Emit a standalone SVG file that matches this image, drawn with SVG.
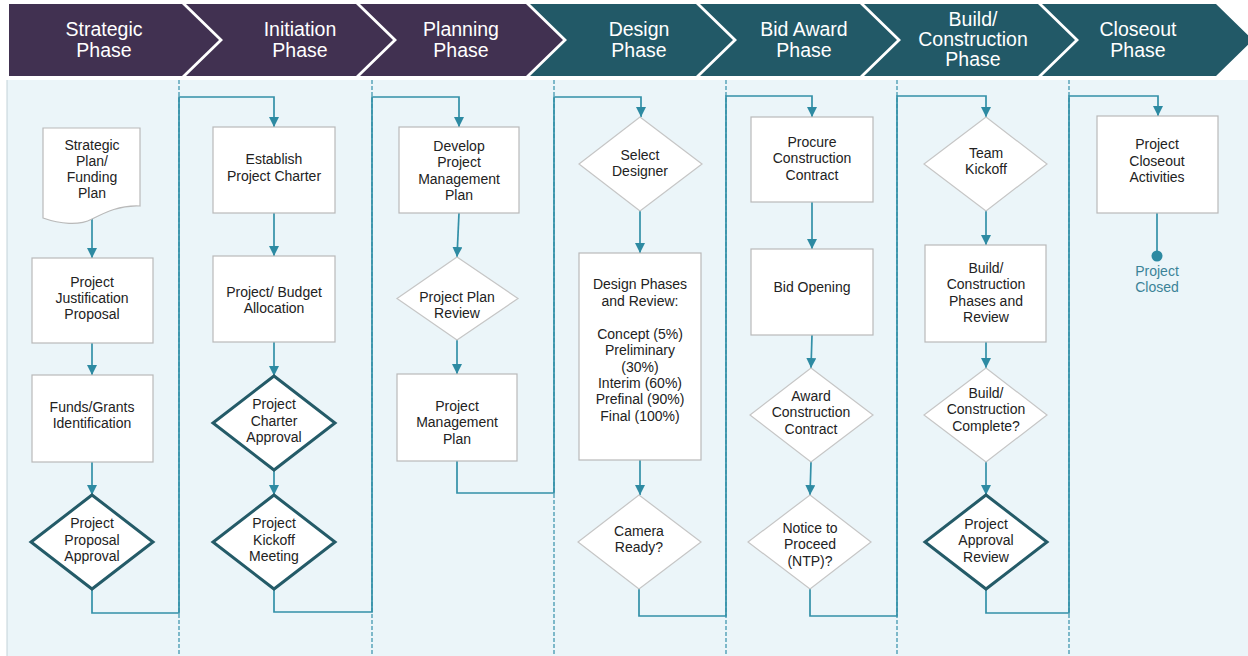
<svg xmlns="http://www.w3.org/2000/svg" width="1248" height="656" viewBox="0 0 1248 656">
<style>
text{font-family:"Liberation Sans",Arial,sans-serif;text-anchor:middle}
.h{font-size:19.5px;fill:#ffffff}
.t{font-size:14px;fill:#222222}
.pur{fill:#413151}
.tea{fill:#225967}
.box{fill:#ffffff;stroke:#b9b9b9;stroke-width:1.2}
.dia{fill:#ffffff;stroke:#c6c6c6;stroke-width:1.2}
.bold{fill:#ffffff;stroke:#245b68;stroke-width:3;stroke-linejoin:miter}
.div{stroke:#5aa4b9;stroke-width:1.5;stroke-dasharray:4 2;fill:none}
.c{fill:none;stroke:#3390a8;stroke-width:1.7}
</style>
<defs>
<marker id="ah" viewBox="0 0 10 10" refX="10" refY="5" markerWidth="10" markerHeight="10" markerUnits="userSpaceOnUse" orient="auto">
<path d="M0,0 L10,5 L0,10 z" fill="#2d8aa2"/>
</marker>
</defs>
<rect x="0" y="0" width="1248" height="656" fill="#ffffff"/>
<rect x="7" y="80" width="1241" height="576" fill="#ebf5f9"/>
<line x1="7" y1="80" x2="7" y2="656" stroke="#c3d2d8" stroke-width="1"/>

<g id="header">
<polygon class="pur" points="9,4 182,4 219,40 182,76 9,76"/>
<polygon class="pur" points="186,4 356,4 393,40 356,76 186,76 223,40"/>
<polygon class="pur" points="360,4 526,4 563,40 526,76 360,76 397,40"/>
<polygon class="tea" points="530,4 696,4 733,40 696,76 530,76 567,40"/>
<polygon class="tea" points="700,4 860,4 897,40 860,76 700,76 737,40"/>
<polygon class="tea" points="864,4 1038,4 1075,40 1038,76 864,76 901,40"/>
<polygon class="tea" points="1042,4 1216,4 1253,40 1216,76 1042,76 1079,40"/>
<text class="h" x="104" y="36">Strategic</text><text class="h" x="104" y="57">Phase</text>
<text class="h" x="300" y="36">Initiation</text><text class="h" x="300" y="57">Phase</text>
<text class="h" x="461" y="36">Planning</text><text class="h" x="461" y="57">Phase</text>
<text class="h" x="639" y="36">Design</text><text class="h" x="639" y="57">Phase</text>
<text class="h" x="804" y="36">Bid Award</text><text class="h" x="804" y="57">Phase</text>
<text class="h" x="973" y="26">Build/</text><text class="h" x="973" y="46">Construction</text><text class="h" x="973" y="66">Phase</text>
<text class="h" x="1138" y="36">Closeout</text><text class="h" x="1138" y="57">Phase</text>
</g>

<g id="dividers">
<line class="div" x1="179" y1="80" x2="179" y2="656"/>
<line class="div" x1="372" y1="80" x2="372" y2="656"/>
<line class="div" x1="554" y1="80" x2="554" y2="656"/>
<line class="div" x1="726" y1="80" x2="726" y2="656"/>
<line class="div" x1="897" y1="80" x2="897" y2="656"/>
<line class="div" x1="1069" y1="80" x2="1069" y2="656"/>
</g>

<g id="connectors">
<line class="c" x1="92" y1="219" x2="92" y2="258" marker-end="url(#ah)"/>
<line class="c" x1="92" y1="343" x2="92" y2="375" marker-end="url(#ah)"/>
<line class="c" x1="92" y1="462" x2="92" y2="495" marker-end="url(#ah)"/>
<polyline class="c" points="92,589 92,613 179,613 179,97 274,97 274,127" marker-end="url(#ah)"/>
<line class="c" x1="274" y1="213" x2="274" y2="256" marker-end="url(#ah)"/>
<line class="c" x1="274" y1="342" x2="274" y2="376" marker-end="url(#ah)"/>
<line class="c" x1="274" y1="470" x2="274" y2="495" marker-end="url(#ah)"/>
<polyline class="c" points="274,589 274,612 372,612 372,97 459,97 459,127" marker-end="url(#ah)"/>
<line class="c" x1="459" y1="213" x2="457" y2="257" marker-end="url(#ah)"/>
<line class="c" x1="457" y1="340" x2="457" y2="374" marker-end="url(#ah)"/>
<polyline class="c" points="457,461 457,493 554,493 554,97 641,97 641,117" marker-end="url(#ah)"/>
<line class="c" x1="640" y1="211" x2="640" y2="253" marker-end="url(#ah)"/>
<line class="c" x1="640" y1="460" x2="640" y2="495" marker-end="url(#ah)"/>
<polyline class="c" points="639,589 639,616 726,616 726,96 812,96 812,117" marker-end="url(#ah)"/>
<line class="c" x1="812" y1="202" x2="812" y2="249" marker-end="url(#ah)"/>
<line class="c" x1="812" y1="335" x2="811" y2="368" marker-end="url(#ah)"/>
<line class="c" x1="811" y1="462" x2="810" y2="495" marker-end="url(#ah)"/>
<polyline class="c" points="810,589 810,616 897,616 897,96 986,96 986,117" marker-end="url(#ah)"/>
<line class="c" x1="986" y1="211" x2="986" y2="245" marker-end="url(#ah)"/>
<line class="c" x1="986" y1="342" x2="986" y2="368" marker-end="url(#ah)"/>
<line class="c" x1="986" y1="462" x2="986" y2="495" marker-end="url(#ah)"/>
<polyline class="c" points="986,589 986,613 1069,613 1069,96 1158,96 1158,116" marker-end="url(#ah)"/>
<line class="c" x1="1157" y1="213" x2="1157" y2="252"/>
</g>

<g id="n1">
<path class="box" d="M43,128 H140 V206 C120,205 106,212 92,219 C79,226 60,224 43,218 Z"/>
<text class="t" x="92" y="150">Strategic</text><text class="t" x="92" y="166">Plan/</text><text class="t" x="92" y="182">Funding</text><text class="t" x="92" y="198">Plan</text>
</g>
<g id="n2">
<rect class="box" x="32" y="258" width="121" height="85"/>
<text class="t" x="92" y="287">Project</text><text class="t" x="92" y="303">Justification</text><text class="t" x="92" y="319">Proposal</text>
</g>
<g id="n3">
<rect class="box" x="32" y="375" width="121" height="87"/>
<text class="t" x="92" y="412">Funds/Grants</text><text class="t" x="92" y="428">Identification</text>
</g>
<g id="n4">
<polygon class="bold" points="92,495 153,542 92,589 31,542"/>
<text class="t" x="92" y="528">Project</text><text class="t" x="92" y="545">Proposal</text><text class="t" x="92" y="561">Approval</text>
</g>

<g id="n5">
<rect class="box" x="213" y="127" width="122" height="86"/>
<text class="t" x="274" y="164">Establish</text><text class="t" x="274" y="181">Project Charter</text>
</g>
<g id="n6">
<rect class="box" x="213" y="256" width="122" height="86"/>
<text class="t" x="274" y="297">Project/ Budget</text><text class="t" x="274" y="313">Allocation</text>
</g>
<g id="n7">
<polygon class="bold" points="274,376 335,423 274,470 213,423"/>
<text class="t" x="274" y="409">Project</text><text class="t" x="274" y="426">Charter</text><text class="t" x="274" y="442">Approval</text>
</g>
<g id="n8">
<polygon class="bold" points="274,495 335,542 274,589 213,542"/>
<text class="t" x="274" y="528">Project</text><text class="t" x="274" y="545">Kickoff</text><text class="t" x="274" y="561">Meeting</text>
</g>

<g id="n9">
<rect class="box" x="399" y="127" width="120" height="86"/>
<text class="t" x="459" y="151">Develop</text><text class="t" x="459" y="167">Project</text><text class="t" x="459" y="184">Management</text><text class="t" x="459" y="200">Plan</text>
</g>
<g id="n10">
<polygon class="dia" points="457,257 518,298.5 457,340 397,298.5"/>
<text class="t" x="457" y="302">Project Plan</text><text class="t" x="457" y="318">Review</text>
</g>
<g id="n11">
<rect class="box" x="397" y="374" width="120" height="87"/>
<text class="t" x="457" y="411">Project</text><text class="t" x="457" y="427">Management</text><text class="t" x="457" y="444">Plan</text>
</g>

<g id="n12">
<polygon class="dia" points="640,117 702,164 640,211 579,164"/>
<text class="t" x="640" y="160">Select</text><text class="t" x="640" y="176">Designer</text>
</g>
<g id="n13">
<rect class="box" x="579" y="253" width="122" height="207"/>
<text class="t" x="640" y="289">Design Phases</text><text class="t" x="640" y="306">and Review:</text>
<text class="t" x="640" y="339">Concept (5%)</text><text class="t" x="640" y="355">Preliminary</text><text class="t" x="640" y="372">(30%)</text>
<text class="t" x="640" y="388">Interim (60%)</text><text class="t" x="640" y="404">Prefinal (90%)</text><text class="t" x="640" y="421">Final (100%)</text>
</g>
<g id="n14">
<polygon class="dia" points="639,495 701,542 639,589 578,542"/>
<text class="t" x="639" y="536">Camera</text><text class="t" x="639" y="552">Ready?</text>
</g>

<g id="n15">
<rect class="box" x="751" y="117" width="122" height="85"/>
<text class="t" x="812" y="147">Procure</text><text class="t" x="812" y="163">Construction</text><text class="t" x="812" y="180">Contract</text>
</g>
<g id="n16">
<rect class="box" x="751" y="249" width="122" height="86"/>
<text class="t" x="812" y="292">Bid Opening</text>
</g>
<g id="n17">
<polygon class="dia" points="811,368 873,415 811,462 750,415"/>
<text class="t" x="811" y="401">Award</text><text class="t" x="811" y="417">Construction</text><text class="t" x="811" y="434">Contract</text>
</g>
<g id="n18">
<polygon class="dia" points="810,495 871,542 810,589 748,542"/>
<text class="t" x="810" y="533">Notice to</text><text class="t" x="810" y="549">Proceed</text><text class="t" x="810" y="566">(NTP)?</text>
</g>

<g id="n19">
<polygon class="dia" points="986,117 1047,164 986,211 924,164"/>
<text class="t" x="986" y="158">Team</text><text class="t" x="986" y="174">Kickoff</text>
</g>
<g id="n20">
<rect class="box" x="925" y="245" width="121" height="97"/>
<text class="t" x="986" y="273">Build/</text><text class="t" x="986" y="289">Construction</text><text class="t" x="986" y="306">Phases and</text><text class="t" x="986" y="322">Review</text>
</g>
<g id="n21">
<polygon class="dia" points="986,368 1047,415 986,462 924,415"/>
<text class="t" x="986" y="398">Build/</text><text class="t" x="986" y="414">Construction</text><text class="t" x="986" y="431">Complete?</text>
</g>
<g id="n22">
<polygon class="bold" points="986,495 1047,542 986,589 925,542"/>
<text class="t" x="986" y="529">Project</text><text class="t" x="986" y="545">Approval</text><text class="t" x="986" y="562">Review</text>
</g>

<g id="n23">
<rect class="box" x="1097" y="116" width="121" height="97"/>
<text class="t" x="1157" y="149">Project</text><text class="t" x="1157" y="166">Closeout</text><text class="t" x="1157" y="182">Activities</text>
</g>
<g id="n24">
<circle cx="1157" cy="256" r="5.5" fill="#2d8aa2"/>
<text x="1157" y="276" style="font-size:14px;fill:#3b8398">Project</text><text x="1157" y="292" style="font-size:14px;fill:#3b8398">Closed</text>
</g>
</svg>
